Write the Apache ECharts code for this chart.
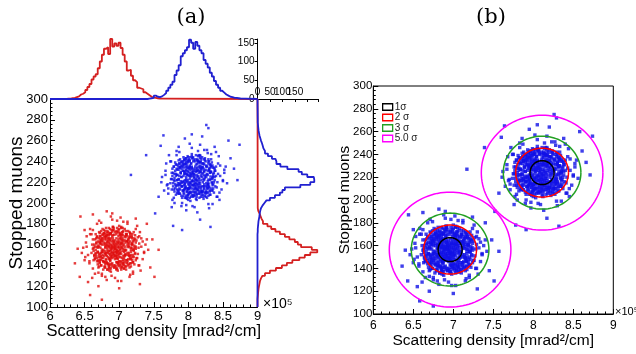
<!DOCTYPE html>
<html><head><meta charset="utf-8">
<script src="https://cdn.jsdelivr.net/npm/echarts@6/dist/echarts.min.js"></script>
<style>html,body{margin:0;padding:0;background:#fff}#c{width:636px;height:354px}</style>
</head><body><div id="c"></div>
<script>
// ---- data ----
const redPoints = [
[6.94,156],[6.88,152],[7.01,160],[6.97,149],[6.85,158],[6.92,163],[7.05,154],[6.81,150],[6.99,157],[6.90,147],[7.03,165],[6.86,161],[6.95,153],[7.08,158],[6.83,155],[6.93,160],[7.00,151],[6.89,156],[6.96,166],[6.84,148],
[7.06,149],[6.91,152],[6.98,162],[6.80,157],[7.02,156],[6.87,164],[6.94,146],[7.09,162],[6.82,160],[6.97,155],[6.90,159],[7.04,147],[6.86,151],[6.99,165],[6.93,150],[7.07,153],[6.79,154],[6.95,158],[6.88,166],[7.01,152],
[6.92,155],[6.85,146],[7.03,161],[6.97,147],[6.83,163],[6.99,154],[6.89,149],[7.05,159],[6.94,164],[6.81,152],[6.96,151],[7.02,148],[6.87,157],[6.91,161],[7.08,155],[6.84,159],[6.98,158],[6.90,153],[7.00,163],[6.86,147],
[6.95,149],[7.04,157],[6.82,162],[6.93,157],[6.88,160],[7.06,164],[6.97,152],[6.80,151],[7.01,166],[6.92,148],[6.85,154],[6.99,150],[6.89,163],[7.03,151],[6.94,159],[6.83,157],[6.96,154],[7.07,160],[6.87,150],[6.91,166],
[7.00,158],[6.84,152],[6.98,146],[6.93,153],[7.05,162],[6.81,159],[6.90,157],[7.02,153],[6.86,165],[6.95,161],[6.88,148],[7.09,151],[6.97,160],[6.82,149],[6.99,161],[6.92,151],[7.04,164],[6.85,162],[6.94,149],[7.01,155],
[6.89,158],[6.96,147],[6.83,153],[7.06,156],[6.91,164],[6.98,153],[6.87,154],[7.03,158],[6.80,161],[6.93,162],[6.95,156],[6.90,150],[7.00,148],[6.86,159],[7.08,149],[6.84,164],[6.97,163],[6.92,158],[7.02,162],[6.88,155],
[7.09,154],[6.78,160],[7.07,147],[6.81,146],[7.13,162],[6.74,152],[6.98,143],[6.88,170],[7.03,167],[6.84,166],[7.17,155],[6.71,158],[7.11,145],[6.79,168],[7.01,171],[6.92,140],[7.15,149],[6.75,147],[7.05,169],[6.82,143],
[7.19,160],[6.76,164],[7.08,150],[6.78,149],[6.99,168],[6.87,144],[7.14,166],[6.72,163],[7.05,142],[6.90,172.5],[7.12,152],[6.80,158],[6.96,143],[6.93,169.5],[7.17,150],[6.69,153],[7.08,164],[6.81,165],[7.02,141],[6.84,141],
[7.14,157.5],[6.75,155],[7.10,169.5],[6.77,144],[6.97,172],[6.87,146],[7.06,145.5],[6.83,169],[7.16,146],[6.72,161],[7.02,144],[6.85,166.5],[7.11,163.5],[6.79,152],[6.99,139.5],[6.91,169],[7.20,155],[6.73,145.5],[7.04,170],[6.86,171],
[6.70,152],[7.18,160],[6.75,166],[7.12,143],[6.68,158],[7.20,150],[6.94,140],[6.92,174],[6.73,145],[7.15,168],[6.78,171],[7.10,139],[6.66,155],[7.22,157],[6.85,138],[7.00,175],[6.72,162],[7.16,147],[6.80,141],[7.05,172],
[6.64,150],[7.24,162],[6.88,137],[6.97,176],[6.76,169],[7.13,165],[6.71,148],[7.19,145],[6.83,173],[7.07,140],[6.67,161],[7.21,155],[6.90,142],[6.96,170],[6.74,140],[7.14,152],[6.79,167],[7.11,170],[6.69,163],[7.17,142],
[6.77,136],[7.04,138],[6.63,157],[7.23,151],[6.86,170],[7.02,143],[6.73,157],[7.16,163],[6.81,168],[7.09,145],[6.70,144],[7.19,166],[6.87,141],[6.99,172],[6.76,150],[7.12,158],[6.65,165],[7.25,147],[6.91,177],[6.95,139],
[6.72,171],[7.14,141],[6.78,143],[7.08,168],[6.68,147],[7.21,164],[6.84,142],[7.03,169],[6.75,160],[7.17,153],[6.82,171],[7.06,142],[6.66,152],[7.22,159],[6.89,174],[6.98,141],[6.71,166],[7.15,149],[6.79,138],[7.10,173],
[6.69,153],[7.18,167],[6.86,139],[7.01,170],[6.74,164],[7.13,146],[6.77,147],[7.11,163],[6.64,160],[7.20,143],[6.93,138],[6.94,172],[6.72,142],[7.16,170],[6.80,173],[7.07,137],[6.67,149],[7.24,156],[6.85,176],[7.00,144],
[6.73,168],[7.12,150],[6.81,145],[7.05,166],[6.70,159],[7.19,161],[6.88,171],[6.97,143],[6.76,153],[7.14,161],[6.62,156],[7.23,165],[6.83,136],[7.03,176],[6.68,167],[7.17,139],[6.78,162],[7.09,150],[6.90,168],[6.96,137],
[6.74,149],[7.15,172],[6.87,145],[7.04,161],[6.65,146],[7.21,148],[6.79,165],[7.10,155],[6.71,139],[7.18,157],
[7.14,159],[6.72,151],[7.11,168],[6.76,170],[7.19,148],[6.67,162],[6.99,174],[6.86,137],[7.06,141],[6.80,143],[7.24,158],[6.63,154],[7.16,171],[6.74,140],[7.03,136],[6.91,177],[7.22,166],[6.68,168],[7.09,139],[6.78,174],
[7.27,151],[6.70,145],[7.13,164],[6.73,165],[7.01,140],[6.84,172],[7.20,143],[6.65,147],[7.08,175],[6.88,134],[7.18,161],[6.75,153],[6.96,173],[6.93,138],[7.25,164],[6.61,160],[7.12,145],[6.77,144],[7.05,176],[6.81,176],
[7.21,154],[6.69,157],[7.15,138],[6.71,172],[6.98,135],[6.85,169],[7.10,170],[6.79,139],[7.23,169],[6.64,149],[7.04,172],[6.82,142],[7.17,146],[6.74,161],[7.00,178],[6.90,139],[7.28,157],[6.66,170],[7.07,137],[6.83,136],
[7.13,173],[6.72,143],[7.20,163],[6.76,166],[7.02,138],[6.87,175],[7.26,147],[6.60,152],[7.11,142],[6.78,171],[6.97,137],[6.92,176],[7.18,168],[6.69,141],[7.14,150],[6.75,163],[7.06,173],[6.80,138],[7.22,141],[6.67,166],
[7.09,167],[6.81,167],[7.03,177],[6.86,135],[7.29,161],[6.62,165],[7.16,142],[6.73,148],[6.99,142],[6.88,171],[7.12,160],[6.77,155],[7.21,172],[6.70,138],[7.05,144],[6.82,169],[7.24,145],[6.65,158],[7.10,136],[6.76,175],
[7.17,157],[6.71,150],[7.01,169],[6.89,141],[7.19,170],[6.68,144],[7.08,143],[6.79,170],[7.27,167],[6.63,145],[7.13,140],[6.74,173],[6.96,136],[6.91,174],[7.15,167],[6.72,168],[7.04,139],[6.85,140],[7.23,152],[6.66,151],
[7.32,166],[6.57,144],[7.06,182],[6.80,129],[7.24,175],[6.62,174],[7.20,134],[6.70,133],[7.36,153],[6.53,158],[6.97,183],[6.89,130],[7.29,140],[6.58,170],[7.12,180],[6.74,181],[7.16,131],[6.75,132],[7.34,163],[6.51,148],
[6.55,150],[7.32,158],[6.60,170],[7.28,140],[6.94,128],[6.90,184],[6.52,162],[7.36,152],[6.62,137],[7.30,172],[6.75,130],[7.12,182],[6.50,145],[7.40,165],[6.68,180],[7.20,132],[6.58,175],[7.34,146],[6.82,126],[7.02,186],
[6.48,157],[7.38,160],[6.65,132],[7.26,178],[6.57,142],[7.31,135],[6.71,183],[7.15,129],[6.53,168],[7.42,155],[6.88,187],[6.98,125],[6.61,128],[7.24,185],[6.46,152],[7.29,168],
[6.58,111.5],[6.75,107],[6.43,129],[6.50,174],[7.51,129],[7.57,155],[6.82,192],[6.44,187],[6.40,156],[7.03,125],[7.45,138],[6.36,142],[7.48,165],[6.62,189],[6.90,190],[7.30,122],[7.00,118],[6.70,120],[7.40,180],[6.55,124]
];
const bluePoints = [
[8.08,224],[8.02,219],[8.15,229],[8.11,216],[7.98,227],[8.05,233],[8.19,222],[7.95,218],[8.13,225],[8.03,214],[8.17,234],[8.00,230],[8.09,220],[8.22,227],[7.97,223],[8.07,229],[8.14,217],[8.03,225],[8.10,235],[7.96,214],
[8.20,216],[8.05,221],[8.12,231],[7.93,226],[8.16,224],[8.01,233],[8.08,213],[8.23,231],[7.96,229],[8.11,223],[8.04,228],[8.18,215],[8.00,218],[8.13,234],[8.07,217],[8.21,220],[7.93,221],[8.09,227],[8.02,235],[8.15,219],
[8.06,222],[7.99,213],[8.17,230],[8.11,214],[7.97,232],[8.13,221],[8.03,216],[8.19,228],[8.08,233],[7.95,219],[8.10,218],[8.16,215],[8.01,226],[8.05,230],[8.22,223],[7.98,228],[8.12,227],[8.04,220],[8.14,232],[8.00,214],
[8.09,216],[8.18,226],[7.96,231],[8.07,226],[8.02,229],[8.20,234],[8.11,219],[7.94,217],[8.15,235],[8.06,214],[7.99,222],[8.13,218],[8.03,232],[8.17,217],[8.08,228],[7.97,225],[8.10,222],[8.21,229],[8.01,217],[8.05,235],
[8.14,226],[7.98,220],[8.12,213],[8.07,221],[8.19,232],[7.95,228],[8.04,226],[8.16,221],[8.00,234],[8.09,231],[8.02,215],[8.23,218],[8.11,230],[7.96,216],[8.13,231],[8.06,217],[8.18,233],[7.99,231],[8.08,218],[8.15,223],
[8.03,227],[8.10,214],[7.97,221],[8.20,225],[8.05,234],[8.12,222],[8.01,220],[8.17,219],[7.94,230],[8.07,231],[8.09,225],[8.04,218],[8.14,215],[8.00,227],[8.22,216],[7.98,234],[8.11,233],[8.06,228],[8.16,231],[8.02,223],
[8.24,226],[7.93,220],[8.22,233],[7.96,234.5],[8.28,218],[7.89,228.5],[8.13,237.5],[8.03,210],[8.18,213],[7.99,214],[8.32,225.5],[7.86,222.5],[8.26,235],[7.94,212],[8.16,209],[8.07,240],[8.30,231.5],[7.90,233],[8.20,211],[7.97,237.5],
[8.34,220],[7.91,216],[8.23,230],[7.93,231],[8.14,212],[8.02,236],[8.29,214],[7.87,217],[8.20,238],[8.05,207.5],[8.27,228],[7.95,222],[8.11,237],[8.08,210.5],[8.32,230],[7.84,227],[8.23,216],[7.96,215],[8.17,239],[7.99,239],
[8.29,222.5],[7.90,225],[8.25,210.5],[7.92,236],[8.12,208],[8.02,234],[8.21,234.5],[7.98,211],[8.31,234],[7.87,219],[8.17,236],[8.00,213.5],[8.26,216.5],[7.94,228],[8.14,240.5],[8.06,211],[8.35,225],[7.88,234.5],[8.19,210],[8.01,209],
[7.84,222],[8.32,229],[7.89,236],[8.26,212],[7.82,228],[8.34,219],[8.08,208],[8.06,243],[7.87,214],[8.29,238],[7.92,240],[8.24,207],[7.80,224],[8.36,226],[7.99,206],[8.14,245],[7.86,232],[8.30,216],[7.94,209],[8.19,242],
[7.78,219],[8.38,231],[8.02,205],[8.11,246],[7.90,239],[8.27,235],[7.85,217],[8.33,214],[7.97,243],[8.21,208],[7.81,231],[8.35,224],[8.04,210],[8.10,240],[7.88,209],[8.28,221],[7.93,237],[8.25,240],[7.83,233],[8.31,211],
[7.91,205],[8.18,206],[7.77,226],[8.37,220],[8.00,240],[8.16,211],[7.87,226],[8.30,233],[7.95,238],[8.23,214],[7.84,213],[8.33,236],[8.01,210],[8.13,242],[7.90,219],[8.26,227],[7.79,235],[8.39,216],[8.05,247],[8.09,207],
[7.86,241],[8.28,210],[7.92,212],[8.22,238],[7.82,216],[8.35,234],[7.98,211],[8.17,239],[7.89,229],[8.31,222],[7.96,241],[8.20,211],[7.80,221],[8.36,228],[8.03,244],[8.12,209],[7.85,236],[8.29,218],[7.93,207],[8.24,243],
[7.83,222],[8.32,237],[8.00,208],[8.15,240],[7.88,234],[8.27,215],[7.91,216],[8.25,232],[7.78,229],[8.34,212],[8.07,206],[8.08,241],[7.86,211],[8.30,240],[7.94,242],[8.21,206],[7.81,218],[8.38,225],[7.99,245],[8.14,213],
[7.87,238],[8.26,219],[7.95,214],[8.19,235],[7.84,227],[8.33,230],[8.02,241],[8.11,211],[7.90,225],[8.28,231],[7.76,223],[8.37,234],[7.97,205],[8.17,246],[7.82,237],[8.31,208],[7.92,231],[8.23,222],[8.04,238],[8.10,210],
[7.88,218],[8.29,242],[8.01,214],[8.18,230],[7.79,213],[8.35,217],[7.93,234],[8.24,224],[7.85,209],[8.32,223],
[7.89,221],[8.31,229],[7.92,212],[8.27,210],[7.84,232],[8.36,218],[8.04,206],[8.17,243],[7.97,239],[8.23,237],[7.79,222],[8.40,226],[7.87,209],[8.29,240],[8.00,244],[8.12,203],[7.81,214],[8.35,212],[7.94,241],[8.25,206],
[7.76,229],[8.33,235],[7.90,216],[8.30,215],[8.02,240],[8.19,208],[7.83,237],[8.38,233],[7.95,205],[8.15,246],[7.85,219],[8.28,227],[8.07,207],[8.10,242],[7.78,216],[8.42,220],[7.91,235],[8.26,236],[7.98,204],[8.22,204],
[7.82,226],[8.34,223],[7.88,242],[8.32,208],[8.05,245],[8.18,211],[7.93,210],[8.24,241],[7.80,211],[8.39,231],[7.99,208],[8.21,238],[7.86,234],[8.29,219],[8.03,202],[8.13,241],[7.75,223],[8.37,210],[7.96,243],[8.20,244],
[7.90,207],[8.31,237],[7.83,217],[8.27,214],[8.01,242],[8.16,205],[7.77,233],[8.43,228],[7.92,238],[8.25,209],[8.06,243],[8.11,204],[7.85,212],[8.34,239],[7.89,230],[8.28,217],[7.97,207],[8.23,242],[7.81,239],[8.36,214],
[7.94,213],[8.22,213],[8.00,203],[8.17,245],[7.74,219],[8.41,215],[7.87,238],[8.30,232],[8.04,238],[8.15,209],[7.91,220],[8.26,225],[7.82,208],[8.33,242],[7.98,236],[8.21,211],[7.79,235],[8.38,222],[7.93,244],[8.27,205],
[7.86,223],[8.32,230],[8.02,211],[8.14,239],[7.84,210],[8.35,236],[7.95,237],[8.24,210],[7.76,213],[8.40,235],[7.90,240],[8.29,207],[8.07,244],[8.12,206],[7.88,213],[8.31,212],[7.99,241],[8.18,240],[7.80,228],[8.37,229],
[7.71,214],[8.46,236],[7.97,198],[8.23,251],[7.79,205],[8.41,206],[7.83,246],[8.33,247],[7.67,227],[8.50,222],[8.06,197],[8.14,250],[7.74,240],[8.45,210],[7.91,200],[8.29,199],[7.87,249],[8.28,248],[7.69,217],[8.52,232],
[7.70,218],[8.46,226],[7.75,240],[8.42,206],[8.09,196],[8.05,253],[7.67,231],[8.50,221],[7.77,203],[8.44,245],[7.90,197],[8.27,251],[7.65,212],[8.54,235],[7.83,250],[8.35,199],[7.72,246],[8.48,213],[7.97,193],[8.17,256],
[7.62,225],[8.52,229],[7.80,200],[8.40,249],[7.71,209],[8.45,203],[7.86,254],[8.30,195],[7.68,238],[8.56,219],[8.02,257],[8.13,191],[7.76,196],[8.38,254],[7.61,220],[8.43,238],
[7.17,227],[7.39,246],[7.64,265],[7.91,174],[7.78,178],[8.29,272],[8.26,275],[8.74,256],[8.71,222],[8.32,177],[8.17,184],[7.52,190],[7.57,206],[8.66,233],[8.61,243],[7.95,262],[8.05,266],[8.20,264],[7.60,255],[8.58,260]
];
// x-projection histograms (bin width 0.03, counts from first bin edge)
const xBinWidth = 0.03;
const redXStart = 6.24;
const redXCounts = [1,1,2,3,5,7,12,14,18,24,32,40,52,60,66,82,100,118,134,138,120,160,140,148,142,150,136,118,100,76,78,62,50,45,30,28,26,18,14,10,6,4,3,2,1,1];
const blueXStart = 7.41;
const blueXCounts = [1,2,3,9,6,5,7,11,16,22,30,38,46,64,76,90,114,122,130,138,158,150,134,152,142,130,122,104,94,84,70,60,48,38,30,22,17,12,9,6,5,3,3,2,1,1,1];
// y-projection histograms (bin width 2.5)
const yBinWidth = 2.5;
const redYStart = 107.5;
const redYCounts = [1,2,3,4,6,8,10,14,20,30,50,74,98,118,140,168,190,212,240,218,175,162,150,128,110,90,72,55,40,22,16,12,8,3,1];
const blueYStart = 170;
const blueYCounts = [1,1,2,3,4,6,8,9,11,14,20,28,36,50,70,90,100,110,172,212,228,226,200,178,165,120,92,76,72,58,42,30,24,21,18,14,11,8,6,4,3,2,1,1];
// sigma contours (panel b)
const sigmaLabels = ['1σ', '2 σ', '3 σ', '5.0 σ'];
const clusterCenters = [[6.96, 156.5], [8.11, 224]];
const sigmaRadiusX = [0.15, 0.33, 0.485, 0.76];
const sigmaRadiusY = [10.5, 21.5, 32, 50.4];
const xTickLabels = [6, 6.5, 7, 7.5, 8, 8.5, 9];
const yTickLabels = [100, 120, 140, 160, 180, 200, 220, 240, 260, 280, 300];
const histTickLabels = [0, 50, 100, 150];

// ---- styles ----
const RED = '#e00c0c', BLUE = '#1010e6', RED_L = '#d42020', BLUE_L = '#2020d0';
const sigmaColors = ['#000000', '#ff0000', '#22a022', '#ff00ff'];
const FONT = 'Liberation Sans';

function xHistLine(start, counts, w) {
  const pts = [[6, 0], [start, 0]];
  counts.forEach((c, i) => {
    const e = +(start + i * w).toFixed(4);
    pts.push([e, c], [+(e + w).toFixed(4), c]);
  });
  pts.push([pts[pts.length - 1][0], 0], [9, 0]);
  return pts;
}
function yHistLine(start, counts, w) {
  const pts = [[0, 100], [0, start]];
  counts.forEach((c, i) => {
    const e = +(start + i * w).toFixed(4);
    pts.push([c, e], [c, +(e + w).toFixed(4)]);
  });
  pts.push([0, pts[pts.length - 1][1]], [0, 300]);
  return pts;
}

const chart = echarts.init(document.getElementById('c'), null, {renderer: 'canvas'});
const txt = {fontFamily: FONT, color: '#000'};
function valueAxis(extra) {
  return Object.assign({
    type: 'value', splitLine: {show: false}, nameMoveOverlap: false,
    axisLine: {show: true, lineStyle: {color: '#000', width: 1}},
    axisTick: {show: true, inside: true, length: 5, lineStyle: {color: '#000'}},
    minorTick: {show: true, splitNumber: 5, length: 2.5, lineStyle: {color: '#000'}},
    axisLabel: Object.assign({}, txt)
  }, extra);
}
const xMin = xTickLabels[0], xMax = xTickLabels[xTickLabels.length - 1];
const yMin = yTickLabels[0], yMax = yTickLabels[yTickLabels.length - 1];
const xStep = xTickLabels[1] - xTickLabels[0], yStep = yTickLabels[1] - yTickLabels[0];
const hStep = histTickLabels[1] - histTickLabels[0];
const histLabel = v => (histTickLabels.indexOf(v) >= 0 ? String(v) : '');

const ellipseSeries = sigmaLabels.map((name, j) => ({
  type: 'custom', name: name, xAxisIndex: 3, yAxisIndex: 3, z: 5,
  itemStyle: {color: sigmaColors[j]},
  data: clusterCenters.map(c => [c[0], c[1], sigmaRadiusX[j], sigmaRadiusY[j]]),
  encode: {x: 0, y: 1},
  renderItem: function (params, api) {
    const c = api.coord([api.value(0), api.value(1)]);
    const s = api.size([api.value(2), api.value(3)]);
    const pts = [];
    for (let k = 0; k <= 120; k++) {
      const a = k / 120 * Math.PI * 2;
      pts.push([c[0] + s[0] * Math.cos(a), c[1] + s[1] * Math.sin(a)]);
    }
    return {type: 'polyline', shape: {points: pts}, style: {stroke: sigmaColors[j], lineWidth: 1.5, fill: null}};
  }
}));

chart.setOption({
  animation: false,
  backgroundColor: '#fff',
  grid: [
    {left: 50, top: 99, width: 207.5, height: 208},
    {left: 50, top: 39, width: 207.5, height: 60},
    {left: 257.5, top: 99, width: 61, height: 208},
    {left: 373.3, top: 86, width: 240, height: 230.7, show: true, borderColor: '#000', borderWidth: 1, backgroundColor: 'transparent'}
  ],
  xAxis: [
    valueAxis({gridIndex: 0, min: xMin, max: xMax, interval: xStep,
      axisLabel: Object.assign({}, txt, {fontSize: 13, margin: 3}),
      name: 'Scattering density [mrad²/cm]', nameLocation: 'middle', nameGap: 16,
      nameTextStyle: Object.assign({}, txt, {fontSize: 16.5})}),
    {gridIndex: 1, type: 'value', min: xMin, max: xMax, show: false},
    valueAxis({gridIndex: 2, min: 0, max: 245, interval: hStep, position: 'top',
      minorTick: {show: false},
      axisTick: {show: true, inside: true, length: 3, lineStyle: {color: '#000'}},
      axisLabel: Object.assign({}, txt, {fontSize: 10, margin: 2, formatter: histLabel})}),
    valueAxis({gridIndex: 3, min: xMin, max: xMax, interval: xStep,
      axisLabel: Object.assign({}, txt, {fontSize: 12, margin: 6}),
      name: 'Scattering density [mrad²/cm]', nameLocation: 'middle', nameGap: 19,
      nameTextStyle: Object.assign({}, txt, {fontSize: 15.5})})
  ],
  yAxis: [
    valueAxis({gridIndex: 0, min: yMin, max: yMax, interval: yStep,
      axisLabel: Object.assign({}, txt, {fontSize: 13, margin: 2}),
      name: 'Stopped muons', nameLocation: 'middle', nameGap: 24, nameRotate: 90,
      nameTextStyle: Object.assign({}, txt, {fontSize: 19})}),
    valueAxis({gridIndex: 1, min: 0, max: 160, interval: hStep, position: 'right',
      minorTick: {show: false},
      axisTick: {show: true, inside: true, length: 3, lineStyle: {color: '#000'}},
      axisLabel: Object.assign({}, txt, {fontSize: 10, inside: true, margin: 3, formatter: histLabel})}),
    {gridIndex: 2, type: 'value', min: yMin, max: yMax, show: false},
    valueAxis({gridIndex: 3, min: yMin, max: yMax, interval: yStep,
      axisLabel: Object.assign({}, txt, {fontSize: 11.5, margin: 1}),
      name: 'Stopped muons', nameLocation: 'middle', nameGap: 21, nameRotate: 90,
      nameTextStyle: Object.assign({}, txt, {fontSize: 15.5})})
  ],
  legend: {
    orient: 'vertical', left: 382, top: 102, padding: 0, itemGap: 0.5,
    itemWidth: 10, itemHeight: 6.5, selectedMode: false,
    textStyle: {fontFamily: FONT, fontSize: 10, color: '#222', lineHeight: 9, padding: [0, 0, 0, -3]},
    data: sigmaLabels.map((n, j) => ({name: n, icon: 'rect',
      itemStyle: {color: 'rgba(0,0,0,0)', borderColor: sigmaColors[j], borderWidth: 1.3}}))
  },
  graphic: [
    {type: 'text', x: 191, y: 18, style: {text: '(a)', fontFamily: 'DejaVu Serif', fontSize: 21, fill: '#000', align: 'center', verticalAlign: 'middle'}},
    {type: 'text', x: 491, y: 18, style: {text: '(b)', fontFamily: 'DejaVu Serif', fontSize: 21, fill: '#000', align: 'center', verticalAlign: 'middle'}},
    {type: 'text', x: 263, y: 304, style: {text: '×10⁵', fontFamily: FONT, fontSize: 14, fill: '#000', align: 'left', verticalAlign: 'middle'}},
    {type: 'text', x: 615, y: 312, style: {text: '×10⁵', fontFamily: FONT, fontSize: 11, fill: '#000', align: 'left', verticalAlign: 'middle'}}
  ],
  series: [
    {type: 'scatter', xAxisIndex: 0, yAxisIndex: 0, symbol: 'rect', symbolSize: 2.5, itemStyle: {color: RED}, data: redPoints, silent: true},
    {type: 'scatter', xAxisIndex: 0, yAxisIndex: 0, symbol: 'rect', symbolSize: 2.5, itemStyle: {color: BLUE}, data: bluePoints, silent: true},
    {type: 'line', xAxisIndex: 1, yAxisIndex: 1, showSymbol: false, lineStyle: {color: RED_L, width: 1.8}, data: xHistLine(redXStart, redXCounts, xBinWidth), silent: true},
    {type: 'line', xAxisIndex: 1, yAxisIndex: 1, showSymbol: false, lineStyle: {color: BLUE_L, width: 1.8}, data: xHistLine(blueXStart, blueXCounts, xBinWidth), silent: true},
    {type: 'line', xAxisIndex: 2, yAxisIndex: 2, showSymbol: false, lineStyle: {color: RED_L, width: 1.8}, data: yHistLine(redYStart, redYCounts, yBinWidth), silent: true},
    {type: 'line', xAxisIndex: 2, yAxisIndex: 2, showSymbol: false, lineStyle: {color: BLUE_L, width: 1.8}, data: yHistLine(blueYStart, blueYCounts, yBinWidth), silent: true},
    {type: 'scatter', xAxisIndex: 3, yAxisIndex: 3, symbol: 'rect', symbolSize: 3.4, itemStyle: {color: BLUE}, data: redPoints, silent: true},
    {type: 'scatter', xAxisIndex: 3, yAxisIndex: 3, symbol: 'rect', symbolSize: 3.4, itemStyle: {color: BLUE}, data: bluePoints, silent: true}
  ].concat(ellipseSeries)
});
</script></body></html>
